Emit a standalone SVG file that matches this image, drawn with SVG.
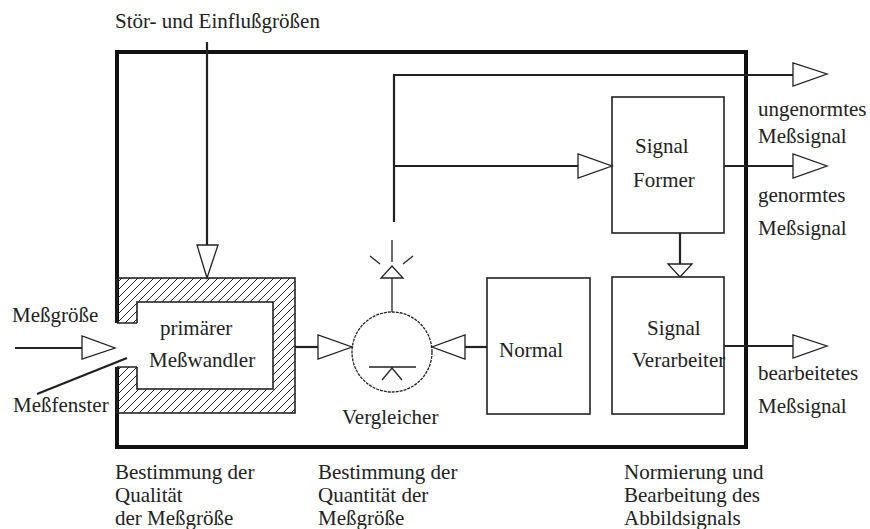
<svg xmlns="http://www.w3.org/2000/svg" width="870" height="529" viewBox="0 0 870 529" font-family="'Liberation Serif', 'DejaVu Serif', serif" font-size="21">
<defs>
<style>
.t{font-family:'Liberation Serif','DejaVu Serif',serif;font-size:21px;fill:#222;}
.box{fill:#fff;stroke:#222;stroke-width:1.6;}
.ln{fill:none;stroke:#222;stroke-width:2.2;}
.thin{fill:none;stroke:#222;stroke-width:1.3;}
.arr{fill:#fff;stroke:#222;stroke-width:1.3;stroke-linejoin:miter;}
</style>
<pattern id="hatch" patternUnits="userSpaceOnUse" width="8" height="8">
<path d="M-2,2 L2,-2 M0,8 L8,0 M6,10 L10,6" stroke="#222" stroke-width="1"/>
</pattern>
</defs>
<rect width="870" height="529" fill="#fff"/>

<g id="frame">
<rect x="117" y="52" width="629" height="395" fill="none" stroke="#111" stroke-width="4"/>
</g>

<g id="messwandler">
<rect x="117" y="278" width="178" height="135" fill="url(#hatch)" stroke="#222" stroke-width="1.6"/>
<rect x="137" y="302" width="136" height="87" class="box"/>
<rect x="115" y="323" width="23" height="44" fill="#fff" stroke="none"/>
<path d="M117,323 H137 M117,367 H137" class="thin"/>
<text class="t" x="160" y="335">primärer</text>
<text class="t" x="149" y="367">Meßwandler</text>
</g>

<g id="vergleicher">
<circle cx="392" cy="352" r="40" fill="#fff" stroke="#222" stroke-width="1.3" stroke-dasharray="3 1"/>
<path d="M369,367 H416 M382,380 L392,368 L402,380" class="thin"/>
<path d="M392,278 V312" class="thin"/>
<polygon points="381,278 403,278 392,266" class="arr"/>
<path d="M392,240 V262 M370,256 L380,264 M413,256 L403,264" class="thin"/>
<text class="t" x="342" y="424">Vergleicher</text>
</g>

<g id="normal">
<rect x="487" y="278" width="103" height="136" class="box"/>
<text class="t" x="499" y="357">Normal</text>
</g>

<g id="signalformer">
<rect x="612" y="97" width="112" height="136" class="box"/>
<text class="t" x="635" y="153">Signal</text>
<text class="t" x="633" y="187">Former</text>
</g>

<g id="signalverarbeiter">
<text class="t" x="647" y="335">Signal</text>
<text class="t" x="632" y="367">Verarbeiter</text>
<rect x="612" y="277" width="112" height="137" fill="none" stroke="#222" stroke-width="1.6"/>
</g>

<g id="connectors">
<path d="M207,42 V245" class="ln"/>
<polygon points="197,245 218,245 207,278" class="arr"/>
<path d="M15,348 H82" class="ln"/>
<polygon points="82,336 82,359 115,348" class="arr"/>
<path d="M37,394 L127,358" class="ln"/>
<path d="M295,347 H318" class="ln"/>
<polygon points="318,335 318,359 352,347" class="arr"/>
<path d="M487,347 H465" class="ln"/>
<polygon points="465,335 465,359 432,347" class="arr"/>
<path d="M394,222 V75 H793" class="ln"/>
<polygon points="793,63 793,86 827,74" class="arr"/>
<path d="M394,166 H578" class="ln"/>
<polygon points="578,154 578,178 612,166" class="arr"/>
<path d="M724,166 H793" class="ln"/>
<polygon points="793,154 793,178 827,166" class="arr"/>
<path d="M680,233 V264" class="ln"/>
<polygon points="668,264 692,264 680,277" class="arr"/>
<path d="M724,346 H793" class="ln"/>
<polygon points="793,335 793,358 827,346" class="arr"/>
</g>

<g id="labels">
<text class="t" x="115" y="28">Stör- und Einflußgrößen</text>
<text class="t" x="12" y="322">Meßgröße</text>
<text class="t" x="13" y="412">Meßfenster</text>
<text class="t" x="758" y="116">ungenormtes</text>
<text class="t" x="758" y="143">Meßsignal</text>
<text class="t" x="758" y="202">genormtes</text>
<text class="t" x="758" y="235">Meßsignal</text>
<text class="t" x="758" y="380">bearbeitetes</text>
<text class="t" x="758" y="413">Meßsignal</text>
<text class="t" x="115" y="479">Bestimmung der</text>
<text class="t" x="115" y="502">Qualität</text>
<text class="t" x="115" y="525">der Meßgröße</text>
<text class="t" x="318" y="479">Bestimmung der</text>
<text class="t" x="318" y="502">Quantität der</text>
<text class="t" x="318" y="525">Meßgröße</text>
<text class="t" x="624" y="479">Normierung und</text>
<text class="t" x="624" y="502">Bearbeitung des</text>
<text class="t" x="624" y="525">Abbildsignals</text>
</g>
</svg>
